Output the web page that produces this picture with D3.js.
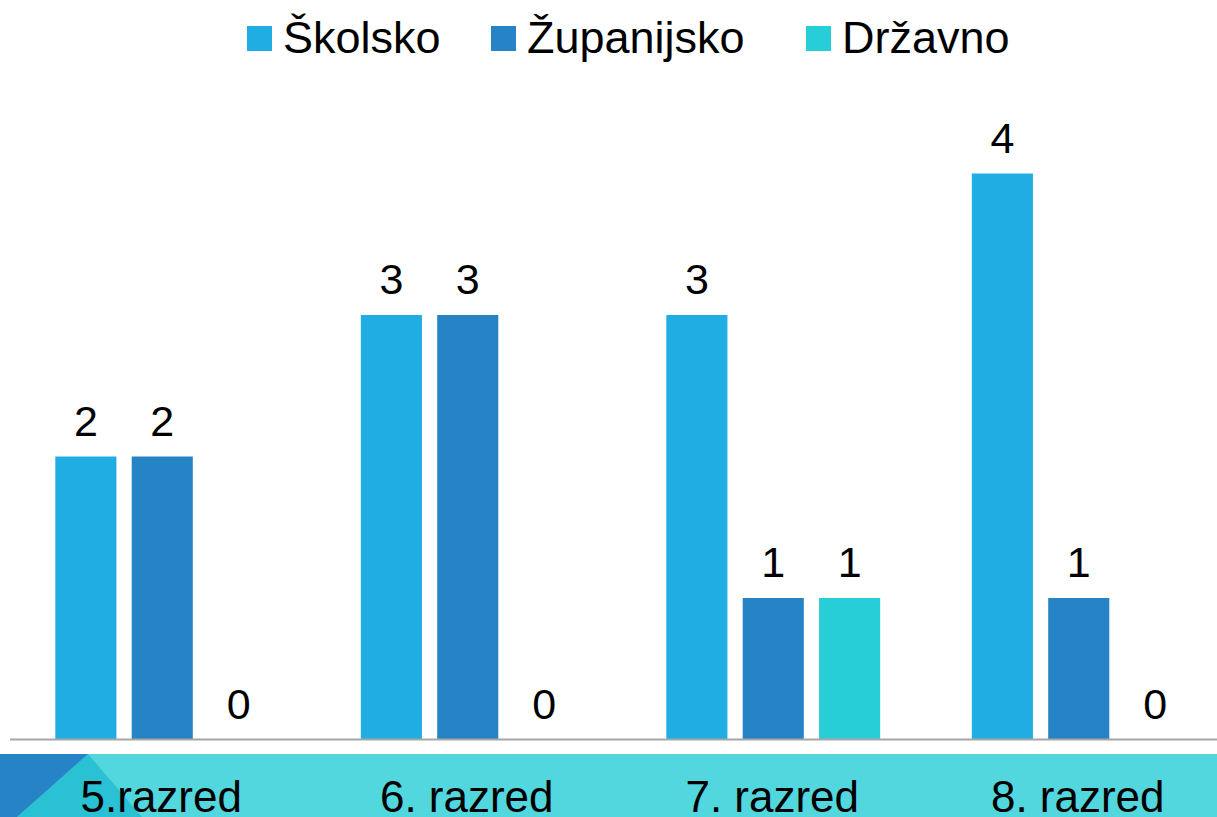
<!DOCTYPE html>
<html>
<head>
<meta charset="utf-8">
<script src="https://cdn.jsdelivr.net/npm/d3@7"></script>
<style>
  html, body { margin: 0; padding: 0; background: #fff; overflow: hidden; }
  svg { display: block; font-family: "Liberation Sans", Arial, sans-serif; }
</style>
</head>
<body>
<svg id="chart" width="1217" height="817"></svg>
<script>
// data
var categories = ['5.razred', '6. razred', '7. razred', '8. razred'];
var series = ['Školsko', 'Županijsko', 'Državno'];
var skolsko = [2, 3, 3, 4];
var zupanijsko = [2, 3, 1, 1];
var drzavno = [0, 0, 1, 0];
var colors = ['#1fade3', '#2683c6', '#27ced7'];

var width = 1217, height = 817;
var baseY = 739.5;
var svg = d3.select('#chart');

var values = [skolsko, zupanijsko, drzavno];

var x0 = d3.scaleBand()
    .domain(categories)
    .range([9.5, 1231.5])
    .padding(0);

var x1 = d3.scaleBand()
    .domain(series)
    .range([0, x0.bandwidth()])
    .paddingInner(0.2)
    .paddingOuter(0.6);

var y = d3.scaleLinear()
    .domain([0, 4])
    .range([baseY, 173.5]);

// bottom decoration band
svg.append('rect')
    .attr('x', 0).attr('y', 754)
    .attr('width', width).attr('height', height - 754)
    .style('fill', '#53d7de');
svg.append('polygon')
    .attr('points', '88,754 142,817 17,817')
    .style('fill', '#29c1d3');
svg.append('polygon')
    .attr('points', '0,754 88,754 17,817 0,817')
    .style('fill', '#2683c6');

// bars
var groups = svg.selectAll('g.grp')
    .data(categories)
    .enter().append('g')
    .attr('class', 'grp')
    .attr('transform', function(d) { return 'translate(' + x0(d) + ',0)'; });

groups.selectAll('rect')
    .data(function(d, i) {
        return series.map(function(s, j) { return { s: s, v: values[j][i], c: colors[j] }; });
    })
    .enter().append('rect')
    .attr('x', function(d) { return x1(d.s); })
    .attr('y', function(d) { return y(d.v); })
    .attr('width', x1.bandwidth())
    .attr('height', function(d) { return baseY - y(d.v); })
    .style('fill', function(d) { return d.c; });

// value labels
groups.selectAll('text')
    .data(function(d, i) {
        return series.map(function(s, j) { return { s: s, v: values[j][i] }; });
    })
    .enter().append('text')
    .attr('x', function(d) { return x1(d.s) + x1.bandwidth() / 2; })
    .attr('y', function(d) { return y(d.v) - 21; })
    .attr('text-anchor', 'middle')
    .style('font-size', '43px')
    .style('fill', '#000')
    .text(function(d) { return d.v; });

// baseline
svg.append('line')
    .attr('x1', 10).attr('x2', width)
    .attr('y1', baseY).attr('y2', baseY)
    .style('stroke', '#a6a6a6')
    .style('stroke-width', 2);

// category labels
svg.selectAll('text.cat')
    .data(categories)
    .enter().append('text')
    .attr('class', 'cat')
    .attr('x', function(d) { return x0(d) + x0.bandwidth() / 2 - 1; })
    .attr('y', 812)
    .attr('text-anchor', 'middle')
    .style('font-size', '44px')
    .style('fill', '#000')
    .text(function(d) { return d; });

// legend
var legendX = [247, 491, 806];
var legend = svg.selectAll('g.leg')
    .data(series)
    .enter().append('g')
    .attr('class', 'leg')
    .attr('transform', function(d, i) { return 'translate(' + legendX[i] + ',0)'; });
legend.append('rect')
    .attr('x', 0).attr('y', 26)
    .attr('width', 25).attr('height', 25)
    .style('fill', function(d, i) { return colors[i]; });
legend.append('text')
    .attr('x', 36).attr('y', 53)
    .style('font-size', '45px')
    .style('fill', '#000')
    .text(function(d) { return d; });
</script>
</body>
</html>
